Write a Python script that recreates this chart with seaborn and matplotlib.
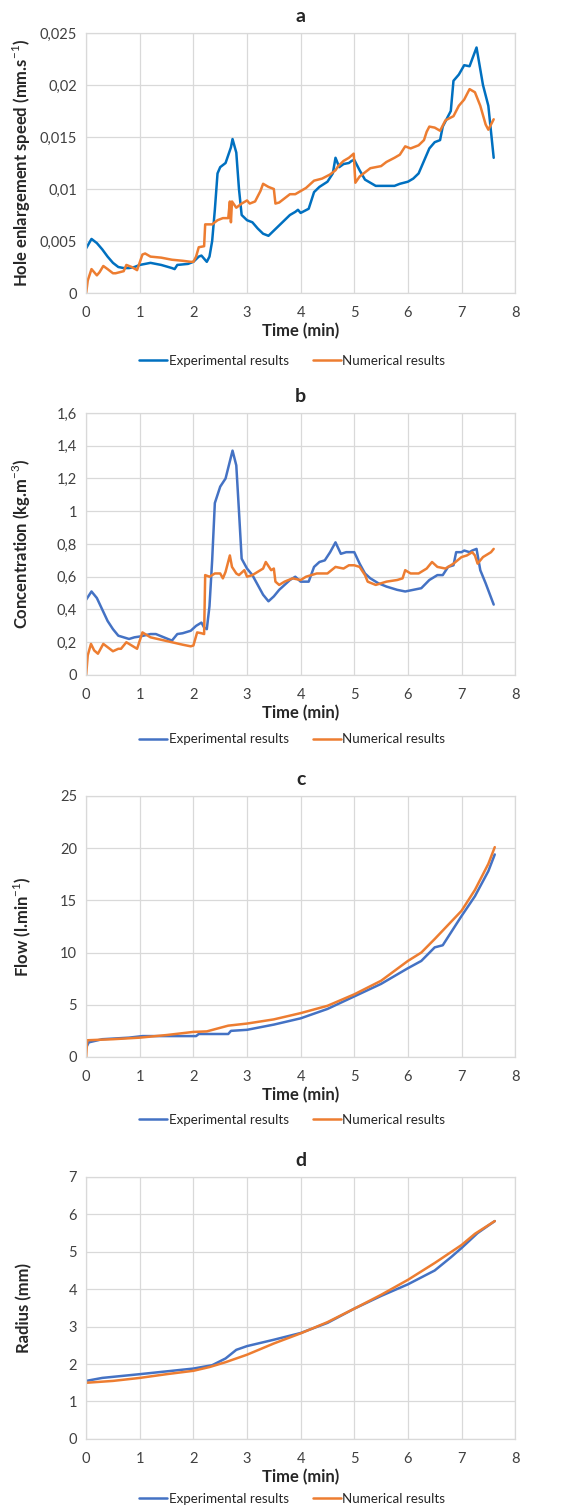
import numpy as np
import pandas as pd
import matplotlib
matplotlib.use("Agg")
import matplotlib.pyplot as plt
from matplotlib.ticker import FuncFormatter, MultipleLocator
import seaborn as sns

# ---- panel a: hole enlargement speed ----
a_exp_t = [0, 0.1, 0.2, 0.3, 0.4, 0.5, 0.6, 0.7, 0.8, 0.9, 1.0, 1.2, 1.4, 1.6, 1.65, 1.7, 1.9, 2.0,
           2.1, 2.15, 2.2, 2.25, 2.3, 2.35, 2.4, 2.45, 2.5, 2.55, 2.6, 2.7, 2.73, 2.8, 2.85, 2.9, 3.0,
           3.1, 3.2, 3.3, 3.4, 3.5, 3.6, 3.7, 3.8, 3.9, 3.95, 4.0, 4.15, 4.25, 4.35, 4.5, 4.6, 4.65,
           4.72, 4.8, 4.9, 4.95, 5.0, 5.1, 5.2, 5.3, 5.4, 5.6, 5.75, 5.85, 6.0, 6.1, 6.2, 6.3, 6.4,
           6.5, 6.6, 6.65, 6.75, 6.8, 6.85, 6.95, 7.05, 7.15, 7.2, 7.28, 7.35, 7.4, 7.5, 7.6]
a_exp_v = [0.0043, 0.0052, 0.0048, 0.0042, 0.0035, 0.0029, 0.0025, 0.0024, 0.0024, 0.0025, 0.0027,
           0.0029, 0.0027, 0.0024, 0.0023, 0.0027, 0.0028, 0.0030, 0.0035, 0.0036, 0.0033, 0.0030,
           0.0035, 0.0050, 0.0080, 0.0115, 0.0121, 0.0123, 0.0125, 0.0140, 0.0148, 0.0135, 0.0100,
           0.0075, 0.0070, 0.0068, 0.0062, 0.0057, 0.0055, 0.0060, 0.0065, 0.0070, 0.0075, 0.0078,
           0.0080, 0.0077, 0.0081, 0.0097, 0.0102, 0.0107, 0.0115, 0.0130, 0.0121, 0.0124, 0.0125,
           0.0127, 0.0128, 0.0118, 0.0109, 0.0106, 0.0103, 0.0103, 0.0103, 0.0105, 0.0107, 0.0110,
           0.0115, 0.0127, 0.0139, 0.0145, 0.0147, 0.0160, 0.0170, 0.0175, 0.0204, 0.0210, 0.0219,
           0.0218, 0.0225, 0.0236, 0.0215, 0.0200, 0.0180, 0.0130]
a_num_t = [0, 0.03, 0.1, 0.15, 0.2, 0.25, 0.32, 0.4, 0.5, 0.55, 0.7, 0.75, 0.85, 0.95, 1.05, 1.1, 1.2,
           1.4, 1.6, 1.8, 1.95, 2.0, 2.05, 2.1, 2.2, 2.22, 2.35, 2.45, 2.55, 2.65, 2.68, 2.7, 2.72,
           2.8, 2.9, 3.0, 3.05, 3.15, 3.25, 3.3, 3.4, 3.5, 3.53, 3.6, 3.7, 3.8, 3.9, 4.0, 4.1, 4.25,
           4.4, 4.55, 4.65, 4.7, 4.8, 4.9, 4.99, 5.02, 5.1, 5.3, 5.5, 5.6, 5.75, 5.85, 5.95, 6.05,
           6.2, 6.3, 6.35, 6.4, 6.5, 6.6, 6.7, 6.85, 6.95, 7.05, 7.15, 7.25, 7.35, 7.45, 7.5, 7.55, 7.6]
a_num_v = [0.0, 0.0012, 0.0023, 0.0020, 0.0017, 0.0020, 0.0026, 0.0023, 0.0019, 0.0019, 0.0021,
           0.0027, 0.0025, 0.0022, 0.0037, 0.0038, 0.0035, 0.0034, 0.0032, 0.0031, 0.0030, 0.0030,
           0.0035, 0.0044, 0.0045, 0.0066, 0.0066, 0.0070, 0.0072, 0.0072, 0.0088, 0.0068, 0.0088,
           0.0082, 0.0086, 0.0089, 0.0086, 0.0088, 0.0098, 0.0105, 0.0102, 0.0100, 0.0086, 0.0087,
           0.0091, 0.0095, 0.0095, 0.0098, 0.0101, 0.0108, 0.0110, 0.0114, 0.0118, 0.0122, 0.0127,
           0.0130, 0.0134, 0.0106, 0.0112, 0.0120, 0.0122, 0.0126, 0.0130, 0.0133, 0.0141, 0.0139,
           0.0142, 0.0147, 0.0155, 0.0160, 0.0159, 0.0156, 0.0166, 0.0170, 0.0180, 0.0186, 0.0196,
           0.0193, 0.0180, 0.0162, 0.0157, 0.0162, 0.0167]

# ---- panel b: concentration ----
b_exp_t = [0, 0.1, 0.2, 0.3, 0.4, 0.5, 0.6, 0.7, 0.8, 0.9, 1.0, 1.2, 1.3, 1.45, 1.6, 1.7, 1.8, 1.95,
           2.05, 2.15, 2.2, 2.25, 2.3, 2.35, 2.4, 2.5, 2.6, 2.73, 2.8, 2.85, 2.9, 3.0, 3.1, 3.2, 3.3,
           3.4, 3.5, 3.6, 3.7, 3.8, 3.9, 4.0, 4.15, 4.25, 4.35, 4.45, 4.55, 4.65, 4.75, 4.85, 5.0,
           5.1, 5.2, 5.3, 5.45, 5.6, 5.8, 5.95, 6.1, 6.25, 6.4, 6.55, 6.65, 6.75, 6.85, 6.9, 7.0,
           7.05, 7.15, 7.2, 7.28, 7.35, 7.45, 7.6]
b_exp_v = [0.46, 0.51, 0.47, 0.40, 0.33, 0.28, 0.24, 0.23, 0.22, 0.23, 0.235, 0.25, 0.25, 0.23, 0.21,
           0.25, 0.255, 0.27, 0.30, 0.32, 0.29, 0.28, 0.42, 0.70, 1.05, 1.15, 1.20, 1.37, 1.28, 1.0,
           0.71, 0.65, 0.61, 0.55, 0.49, 0.45, 0.48, 0.52, 0.55, 0.58, 0.60, 0.57, 0.57, 0.66, 0.69,
           0.70, 0.75, 0.81, 0.74, 0.75, 0.75, 0.68, 0.62, 0.59, 0.56, 0.54, 0.52, 0.51, 0.52, 0.53,
           0.58, 0.61, 0.61, 0.66, 0.67, 0.75, 0.75, 0.76, 0.75, 0.76, 0.77, 0.64, 0.56, 0.43]
b_num_t = [0, 0.03, 0.09, 0.15, 0.22, 0.32, 0.4, 0.5, 0.6, 0.65, 0.75, 0.85, 0.95, 1.05, 1.2, 1.4,
           1.6, 1.8, 1.95, 2.0, 2.07, 2.15, 2.2, 2.22, 2.3, 2.4, 2.5, 2.55, 2.6, 2.68, 2.72, 2.8,
           2.85, 2.95, 3.0, 3.1, 3.2, 3.3, 3.35, 3.45, 3.5, 3.53, 3.6, 3.7, 3.85, 4.0, 4.1, 4.3, 4.5,
           4.65, 4.8, 4.9, 5.0, 5.1, 5.2, 5.25, 5.4, 5.6, 5.8, 5.9, 5.95, 6.05, 6.2, 6.35, 6.45,
           6.55, 6.7, 6.85, 7.0, 7.1, 7.2, 7.25, 7.3, 7.4, 7.5, 7.55, 7.6]
b_num_v = [0.0, 0.12, 0.19, 0.15, 0.13, 0.19, 0.17, 0.145, 0.16, 0.16, 0.20, 0.18, 0.16, 0.26, 0.23,
           0.215, 0.20, 0.185, 0.175, 0.18, 0.26, 0.255, 0.25, 0.61, 0.60, 0.62, 0.62, 0.59, 0.63,
           0.73, 0.66, 0.62, 0.61, 0.64, 0.60, 0.61, 0.63, 0.65, 0.69, 0.64, 0.65, 0.57, 0.55, 0.57,
           0.59, 0.58, 0.60, 0.62, 0.62, 0.66, 0.65, 0.67, 0.67, 0.66, 0.61, 0.57, 0.55, 0.57, 0.58,
           0.59, 0.64, 0.62, 0.62, 0.65, 0.69, 0.66, 0.65, 0.68, 0.72, 0.73, 0.75, 0.73, 0.68, 0.72,
           0.74, 0.75, 0.77]

# ---- panel c: flow ----
c_exp_t = [0, 0.05, 0.3, 0.8, 1.05, 2.05, 2.1, 2.65, 2.7, 3.0, 3.5, 4.0, 4.5, 5.0, 5.5, 6.0, 6.25,
           6.5, 6.65, 7.0, 7.25, 7.5, 7.62]
c_exp_v = [0.9, 1.4, 1.7, 1.85, 2.0, 2.0, 2.2, 2.2, 2.5, 2.6, 3.1, 3.7, 4.6, 5.8, 7.0, 8.5, 9.2,
           10.5, 10.7, 13.5, 15.4, 17.8, 19.4]
c_num_t = [0, 0.02, 0.5, 1.0, 1.5, 2.0, 2.25, 2.65, 3.0, 3.5, 4.0, 4.5, 5.0, 5.5, 6.0, 6.25, 6.5,
           7.0, 7.25, 7.5, 7.62]
c_num_v = [0, 1.6, 1.7, 1.85, 2.1, 2.4, 2.45, 3.0, 3.2, 3.6, 4.2, 4.9, 6.0, 7.3, 9.2, 10.0, 11.3,
           14.0, 16.0, 18.5, 20.1]

# ---- panel d: radius ----
d_exp_t = [0, 0.3, 1.0, 2.0, 2.35, 2.6, 2.8, 3.0, 3.5, 4.0, 4.5, 5.0, 5.5, 6.0, 6.5, 6.8, 7.0, 7.3, 7.62]
d_exp_v = [1.55, 1.63, 1.73, 1.88, 1.97, 2.15, 2.38, 2.48, 2.65, 2.83, 3.1, 3.48, 3.82, 4.13, 4.5,
           4.85, 5.1, 5.5, 5.82]
d_num_t = [0, 0.5, 1.0, 1.5, 2.0, 2.3, 2.6, 3.0, 3.5, 4.0, 4.5, 5.0, 5.5, 6.0, 6.5, 7.0, 7.25, 7.62]
d_num_v = [1.5, 1.55, 1.63, 1.73, 1.82, 1.92, 2.05, 2.25, 2.55, 2.82, 3.12, 3.48, 3.85, 4.25, 4.7,
           5.18, 5.48, 5.82]

panels = [
    ("a", "Hole enlargement speed (mm.s$^{-1}$)", a_exp_t, a_exp_v, a_num_t, a_num_v, 0.025, 0.005, "#0070C0"),
    ("b", "Concentration (kg.m$^{-3}$)", b_exp_t, b_exp_v, b_num_t, b_num_v, 1.6, 0.2, "#4472C4"),
    ("c", "Flow (l.min$^{-1}$)", c_exp_t, c_exp_v, c_num_t, c_num_v, 25, 5, "#4472C4"),
    ("d", "Radius (mm)", d_exp_t, d_exp_v, d_num_t, d_num_v, 7, 1, "#4472C4"),
]

sns.set_style("whitegrid")
plt.rcParams["font.family"] = ["Lato", "DejaVu Sans"]
plt.rcParams["mathtext.fontset"] = "custom"
plt.rcParams["mathtext.rm"] = "Lato"
plt.rcParams["mathtext.bf"] = "Lato:bold"

fig = plt.figure(figsize=(5.63, 15.05), dpi=100)
# axes boxes in figure fractions, top to bottom
boxes = [(0.153, 0.8053, 0.762, 0.1728),
         (0.153, 0.5515, 0.762, 0.1741),
         (0.153, 0.2977, 0.762, 0.1734),
         (0.153, 0.0439, 0.762, 0.1741)]
legend_y = [-0.26, -0.245, -0.24, -0.228]

comma = FuncFormatter(lambda v, p: f"{v:g}".replace(".", ","))

for (letter, ylab, et, ev, nt, nv, ymax, ystep, blue), box, ly in zip(panels, boxes, legend_y):
    ax = fig.add_axes(box)
    exp = pd.DataFrame({"t": et, "v": ev})
    num = pd.DataFrame({"t": nt, "v": nv})
    sns.lineplot(data=exp, x="t", y="v", ax=ax, color=blue, lw=1.8,
                 estimator=None, sort=False, label="Experimental results")
    sns.lineplot(data=num, x="t", y="v", ax=ax, color="#ED7D31", lw=1.8,
                 estimator=None, sort=False, label="Numerical results")
    ax.set_xlim(0, 8)
    ax.set_ylim(0, ymax)
    ax.xaxis.set_major_locator(MultipleLocator(1))
    ax.yaxis.set_major_locator(MultipleLocator(ystep))
    ax.yaxis.set_major_formatter(comma)
    ax.grid(True, color="#D9D9D9", lw=0.9)
    for s in ax.spines.values():
        s.set_color("#D9D9D9")
        s.set_linewidth(0.9)
    ax.tick_params(axis="both", labelsize=10.5, colors="#404040", length=0)
    ax.tick_params(axis="x", pad=9.5)
    ax.tick_params(axis="y", pad=6.5)
    ax.set_xlabel("Time (min)", fontsize=12, fontweight="bold", labelpad=2)
    ax.set_ylabel(ylab, fontsize=12, fontweight="bold")
    ax.yaxis.set_label_coords(-0.125, 0.5)
    ax.set_title(letter, fontsize=14, fontweight="bold", pad=8)
    ax.legend(loc="center", bbox_to_anchor=(0.48, ly), ncol=2, frameon=False,
              fontsize=9.6, handlelength=2.1, handletextpad=0.1, columnspacing=1.8)

fig.savefig("out.png", dpi=100)
